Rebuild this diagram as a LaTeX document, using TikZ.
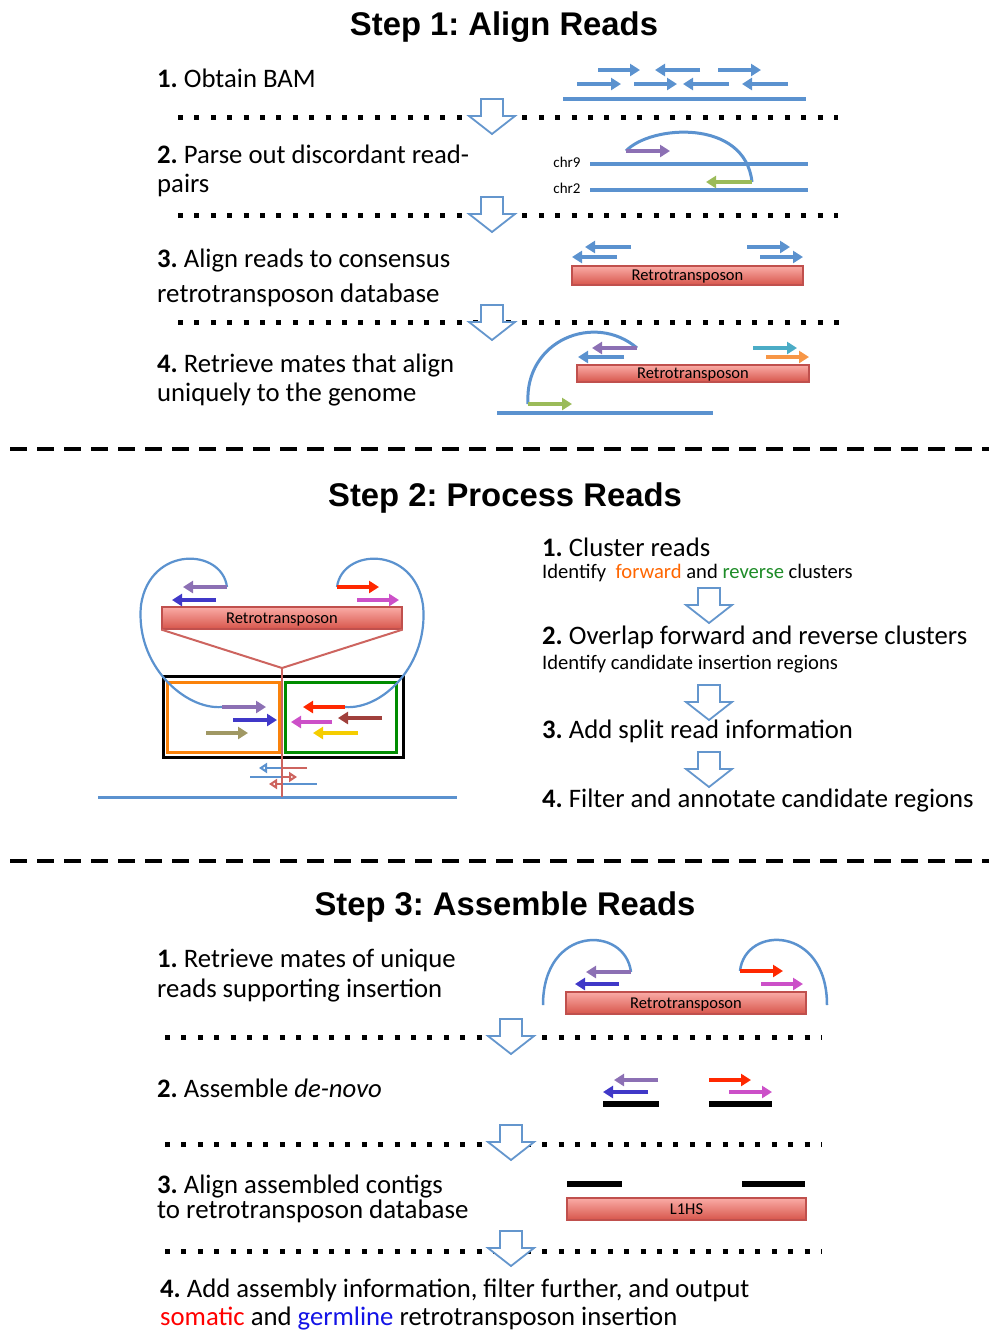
\documentclass[tikz,border=0pt]{standalone}
\usepackage{fontspec}
\setmainfont{Carlito}
\newfontfamily\titlefont{Liberation Sans}
\usetikzlibrary{arrows.meta}
\frenchspacing
\definecolor{lblue}{RGB}{91,146,207}
\definecolor{hblue}{RGB}{100,150,205}
\definecolor{rpurple}{RGB}{140,112,180}
\definecolor{rgreen}{RGB}{155,187,89}
\definecolor{rcyan}{RGB}{75,172,198}
\definecolor{rorange}{RGB}{247,150,70}
\definecolor{dblue}{RGB}{64,56,200}
\definecolor{rred}{RGB}{255,40,0}
\definecolor{rmag}{RGB}{204,80,200}
\definecolor{rbrown}{RGB}{160,64,60}
\definecolor{ryellow}{RGB}{245,205,0}
\definecolor{rolive}{RGB}{160,152,100}
\definecolor{boxtop}{RGB}{250,172,166}
\definecolor{boxbot}{RGB}{215,85,75}
\definecolor{boxedge}{RGB}{192,80,77}
\definecolor{fanred}{RGB}{205,100,95}
\definecolor{clorange}{RGB}{250,130,10}
\definecolor{clgreen}{RGB}{0,140,0}
\definecolor{txorange}{RGB}{255,102,0}
\definecolor{txgreen}{RGB}{30,140,40}
\definecolor{txred}{RGB}{255,0,0}
\definecolor{txblue}{RGB}{20,20,230}
\tikzset{
  harrow/.pic={\draw[hblue, line width=1.8pt, fill=white, line join=miter]
     (-11,0) -- (11,0) -- (11,17) -- (23,17) -- (0,35) -- (-23,17) -- (-11,17) -- cycle;},
  title/.style={anchor=base, inner sep=0pt, font=\titlefont\bfseries\fontsize{32.8}{36}\selectfont},
  body/.style={anchor=base west, inner sep=0pt, font=\fontsize{26.7}{30}\selectfont},
  bodyl/.style={anchor=base west, inner sep=0pt, font=\fontsize{26.9}{30}\selectfont},
  subtext/.style={anchor=base west, inner sep=0pt, font=\fontsize{20.6}{24}\selectfont},
  chrlab/.style={inner sep=0pt, font=\fontsize{15}{18}\selectfont},
  rtbox/.style={draw=boxedge, line width=1.2pt, top color=boxtop, bottom color=boxbot,
     inner sep=0pt, text depth=0pt, font=\fontsize{16.5}{18}\selectfont},
  read/.style={line width=3.2pt, -{Triangle[length=10pt,width=12pt]}},
  sread/.style={line width=2.2pt},
  sreadh/.style={line width=2.2pt, -{Triangle[open,length=8pt,width=10pt]}},
  gline/.style={lblue, line width=4pt},
  arcline/.style={lblue, line width=3pt},
  loopline/.style={lblue, line width=2.2pt},
  dotline/.style={line width=5pt, dash pattern=on 5pt off 11.4pt},
  sepline/.style={line width=4.5pt, dash pattern=on 17pt off 10pt},
  fan/.style={fanred, line width=2pt},
  bar/.style={line width=6pt}
}
\begin{document}
\begin{tikzpicture}[x=1pt,y=-1pt]
\useasboundingbox (0,0) rectangle (989,1331);
\fill[white] (0,0) rectangle (989,1331);

% ---------------- Titles ----------------
\node[title] (t1) at (504,35.5) {Step 1: Align Reads};
\node[title] (t2) at (505,506.5) {Step 2: Process Reads};
\node[title] (t3) at (505,915.5) {Step 3: Assemble Reads};

% ---------------- Step 1 text ----------------
\node[body] (s1a) at (157,87.5) {\textbf{1.} Obtain BAM};
\node[body] (s1b1) at (157,163) {\textbf{2.} Parse out discordant read-};
\node[body] (s1b2) at (157,192) {pairs};
\node[body] (s1c1) at (157,267.5) {\textbf{3.} Align reads to consensus};
\node[bodyl] (s1c2) at (157,302.5) {retrotransposon database};
\node[body] (s1d1) at (157,372.5) {\textbf{4.} Retrieve mates that align};
\node[body] (s1d2) at (157,401) {uniquely to the genome};

\draw[dotline] (178,117) -- (838,117);
\draw[dotline] (178,215) -- (838,215);
\draw[dotline] (178,322) -- (840,322);
\pic at (492,99) {harrow};
\pic at (492,197) {harrow};
\pic at (492,305) {harrow};

% panel 1
\draw[read,lblue] (598,70) -- (640,70);
\draw[read,lblue] (700,70) -- (655,70);
\draw[read,lblue] (718,70) -- (761,70);
\draw[read,lblue] (577,84) -- (621,84);
\draw[read,lblue] (634,84) -- (677,84);
\draw[read,lblue] (729,84) -- (683,84);
\draw[read,lblue] (788,84) -- (742,84);
\draw[gline] (563,99) -- (806,99);

% panel 2
\node[chrlab] (chr9) at (567,162) {chr9};
\node[chrlab] (chr2) at (567,188) {chr2};
\draw[gline] (590,164) -- (808,164);
\draw[gline] (590,190) -- (808,190);
\draw[arcline] (626,151) .. controls (650,125) and (745,118) .. (752,182);
\draw[read,rpurple] (626,151) -- (670,151);
\draw[read,rgreen] (752,182) -- (706,182);

% panel 3
\draw[read,lblue] (631,247) -- (585,247);
\draw[read,lblue] (617,257) -- (572,257);
\draw[read,lblue] (747,247) -- (790,247);
\draw[read,lblue] (760,257) -- (803,257);
\node[rtbox, minimum width=231pt, minimum height=19pt] (rt1) at (687.5,275.5) {Retrotransposon};

% panel 4
\node[rtbox, minimum width=232pt, minimum height=17pt] (rt2) at (693,373.5) {Retrotransposon};
\draw[arcline] (528,404) .. controls (524,340) and (595,312) .. (637,348);
\draw[read,rpurple] (637,348) -- (592,348);
\draw[read,lblue] (624,357) -- (578,357);
\draw[read,rcyan] (753,348) -- (797,348);
\draw[read,rorange] (766,357) -- (809,357);
\draw[read,rgreen] (528,404) -- (572,404);
\draw[gline] (497,413) -- (713,413);

% separators
\draw[sepline] (10,449) -- (989,449);
\draw[sepline] (10,861) -- (989,861);

% ---------------- Step 2 diagram ----------------
\draw[line width=3pt] (163,676) rectangle (403,757);
\draw[clorange, line width=3pt] (167.5,682) rectangle (279,752);
\draw[clgreen, line width=3pt] (285,682) rectangle (396,752);
\node[rtbox, minimum width=240pt, minimum height=22pt] (rt3) at (282,618) {Retrotransposon};
\coordinate (fanpt) at (282,668);
\coordinate (fanbot) at (282,797);
\draw[fan] (rt3.south west) -- (fanpt) -- (rt3.south east);

\draw[loopline] (227,587) .. controls (222,548) and (150,545) .. (141,605)
   .. controls (135,665) and (185,710) .. (222,707);
\draw[loopline] (337,587) .. controls (342,548) and (414,545) .. (423,605)
   .. controls (429,665) and (382,710) .. (345,707);

\draw[read,rpurple] (227,587) -- (183,587);
\draw[read,dblue] (216,600) -- (172,600);
\draw[read,rred] (337,587) -- (379,587);
\draw[read,rmag] (357,600) -- (399,600);

\draw[read,rpurple] (222,707) -- (266,707);
\draw[read,dblue] (233,720) -- (277,720);
\draw[read,rolive] (206,733) -- (248,733);
\draw[read,rred] (345,707) -- (303,707);
\draw[read,rbrown] (382,718) -- (338,718);
\draw[read,rmag] (332,722) -- (291,722);
\draw[read,ryellow] (358,733) -- (313,733);

% split reads
\draw[sread,fanred] (307,768) -- (282,768);
\draw[sreadh,lblue] (282,768) -- (259,768);
\draw[sread,lblue] (250,777) -- (282,777);
\draw[sreadh,fanred] (282,777) -- (297,777);
\draw[sread,lblue] (282,784) -- (317,784);
\draw[sreadh,fanred] (282,784) -- (269,784);

\draw[gline, line width=3pt] (98,797) -- (457,797);
\draw[fan] (fanpt) -- (fanbot);

% ---------------- Step 2 text ----------------
\node[body] (s2a) at (542,556) {\textbf{1.} Cluster reads};
\node[subtext] (s2a2) at (542,578.5) {Identify\ \ {\color{txorange}forward} and {\color{txgreen}reverse} clusters};
\pic at (709,588) {harrow};
\node[body] (s2b) at (542,644.5) {\textbf{2.} Overlap forward and reverse clusters};
\node[subtext] (s2b2) at (542,669.5) {Identify candidate insertion regions};
\pic at (709,685) {harrow};
\node[body] (s2c) at (542,738) {\textbf{3.} Add split read information};
\pic at (709,752) {harrow};
\node[body] (s2d) at (542,807) {\textbf{4.} Filter and annotate candidate regions};

% ---------------- Step 3 ----------------
\node[body] (s3a1) at (157,967) {\textbf{1.} Retrieve mates of unique};
\node[body] (s3a2) at (157,997) {reads supporting insertion};
\draw[dotline] (165,1037) -- (822,1037);
\pic at (511,1019) {harrow};
\node[body] (s3b) at (157,1097) {\textbf{2.} Assemble \textit{de-novo}};
\draw[dotline] (165,1144) -- (822,1144);
\pic at (511,1125) {harrow};
\node[body] (s3c1) at (157,1193) {\textbf{3.} Align assembled contigs};
\node[bodyl] (s3c2) at (157,1218) {to retrotransposon database};
\draw[dotline] (165,1251) -- (822,1251);
\pic at (511,1231) {harrow};
\node[body] (s3d1) at (160,1297.5) {\textbf{4.} Add assembly information, filter further, and output};
\node[body] (s3d2) at (160,1325) {{\color{txred}somatic} and {\color{txblue}germline} retrotransposon insertion};

% step 3 graphics
\node[rtbox, minimum width=240pt, minimum height=22pt] (rt4) at (686,1003) {Retrotransposon};
\draw[loopline, line width=2.5pt] (543,1005) .. controls (543,925) and (625,925) .. (631,972);
\draw[loopline, line width=2.5pt] (740,971) .. controls (745,925) and (827,925) .. (827,1005);
\draw[read,rpurple] (631,972) -- (586,972);
\draw[read,dblue] (619,984) -- (575,984);
\draw[read,rred] (740,971) -- (783,971);
\draw[read,rmag] (761,984) -- (803,984);

\draw[read,rpurple] (658,1080) -- (614,1080);
\draw[read,dblue] (648,1092) -- (603,1092);
\draw[bar] (603,1104) -- (659,1104);
\draw[read,rred] (709,1080) -- (751,1080);
\draw[read,rmag] (729,1092) -- (772,1092);
\draw[bar] (709,1104) -- (772,1104);

\draw[bar] (567,1184) -- (622,1184);
\draw[bar] (742,1184) -- (805,1184);
\node[rtbox, minimum width=239pt, minimum height=22pt] (l1hs) at (686.5,1209) {L1HS};
\end{tikzpicture}
\end{document}
